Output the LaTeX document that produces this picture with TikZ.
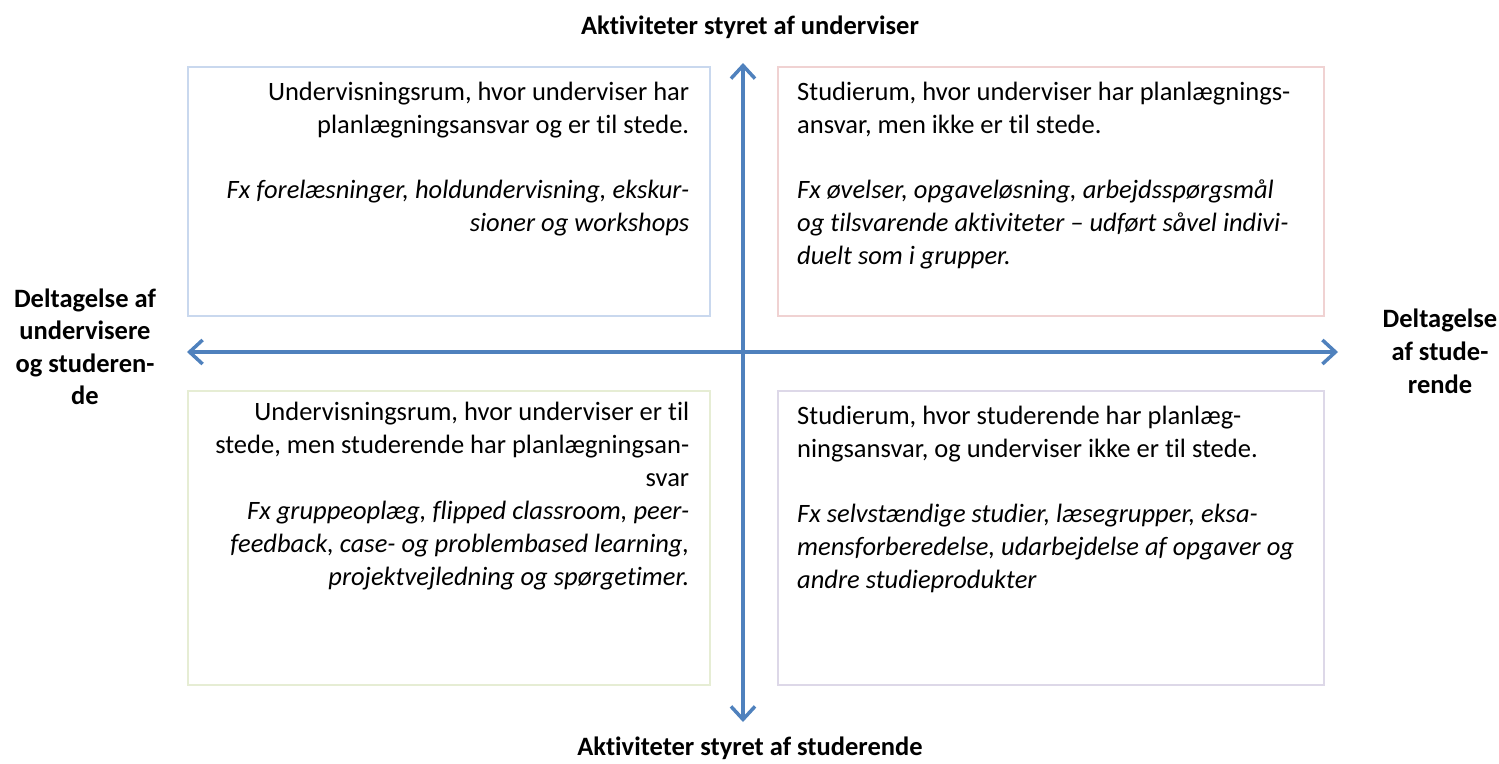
\documentclass[tikz,border=0pt]{standalone}
\usepackage{fontspec}
\setmainfont{Carlito}[Ligatures=NoCommon]
\usepackage{tikz}
\usetikzlibrary{arrows.meta,positioning}

\definecolor{aksebla}{HTML}{4F81BD}
\definecolor{randbla}{HTML}{C9D8EE}
\definecolor{randrod}{HTML}{F0D2D2}
\definecolor{randgron}{HTML}{E6EDD4}
\definecolor{randlilla}{HTML}{DDD8E8}

\begin{document}
\begin{tikzpicture}[x=1pt,y=-1pt,
   rum/.style={draw,line width=2.4pt,minimum width=#1,minimum height=249pt,inner sep=0pt,fill=white},
   tekst/.style={inner sep=0pt,font=\fontsize{26.5}{33}\selectfont},
   akse/.style={draw=aksebla,line width=3.5pt,{Straight Barb[length=13pt,width=24pt]}-{Straight Barb[length=13pt,width=24pt]}},
   overskrift/.style={inner sep=0pt,align=center,font=\fontsize{26.5}{33}\selectfont\bfseries}]

  \useasboundingbox (0,0) rectangle (1499,763);

  % de fire rum
  \node[rum=522pt,draw=randbla,anchor=north west] (tv) at (187,66) {};
  \node[rum=546pt,draw=randrod,anchor=north west] (th) at (777,66) {};
  \node[rum=522pt,draw=randgron,anchor=north west,minimum height=294pt] (bv) at (187,390) {};
  \node[rum=546pt,draw=randlilla,anchor=north west,minimum height=294pt] (bh) at (777,390) {};

  % akser
  \coordinate (venstre) at (187,352);
  \coordinate (hoejre) at (1338,352);
  \coordinate (top) at (743,63);
  \coordinate (bund) at (743,722);
  \draw[akse] (venstre) -- (hoejre);
  \draw[akse] (bund) -- (top);

  % tekster i rummene
  \node[tekst,align=right,anchor=north east] (tvtekst) at ([xshift=-22pt,yshift=-16pt]tv.north east)
    {Undervisningsrum, hvor underviser har\\planlægningsansvar og er til stede.\\[32pt]
     \itshape Fx forelæsninger, holdundervisning, ekskur-\\\itshape sioner og workshops};
  \node[tekst,align=left,anchor=north west] (thtekst) at ([xshift=20pt,yshift=-16pt]th.north west)
    {Studierum, hvor underviser har planlægnings-\\ansvar, men ikke er til stede.\\[32pt]
     \itshape Fx øvelser, opgaveløsning, arbejdsspørgsmål\\\itshape og tilsvarende aktiviteter -- udført såvel indivi-\\\itshape duelt som i grupper.};
  \node[tekst,align=right,anchor=north east] (bvtekst) at ([xshift=-22pt,yshift=-12pt]bv.north east)
    {Undervisningsrum, hvor underviser er til\\stede, men studerende har planlægningsan-\\svar\\
     \itshape Fx gruppeoplæg, flipped classroom, peer-\\\itshape feedback, case- og problembased learning,\\\itshape projektvejledning og spørgetimer.};
  \node[tekst,align=left,anchor=north west] (bhtekst) at ([xshift=20pt,yshift=-16pt]bh.north west)
    {Studierum, hvor studerende har planlæg-\\ningsansvar, og underviser ikke er til stede.\\[32pt]
     \itshape Fx selvstændige studier, læsegrupper, eksa-\\\itshape mensforberedelse, udarbejdelse af opgaver og\\\itshape andre studieprodukter};

  % aksernes overskrifter
  \node[overskrift] (styretu) at (750,27) {Aktiviteter styret af underviser};
  \node[overskrift] (styrets) at (750,748) {Aktiviteter styret af studerende};
  \node[overskrift,font=\fontsize{26.5}{32.5}\selectfont\bfseries] (delu) at (85,347) {Deltagelse af\\undervisere\\og studeren-\\de};
  \node[overskrift] (dels) at (1440,351) {Deltagelse\\af stude-\\rende};
\end{tikzpicture}
\end{document}
